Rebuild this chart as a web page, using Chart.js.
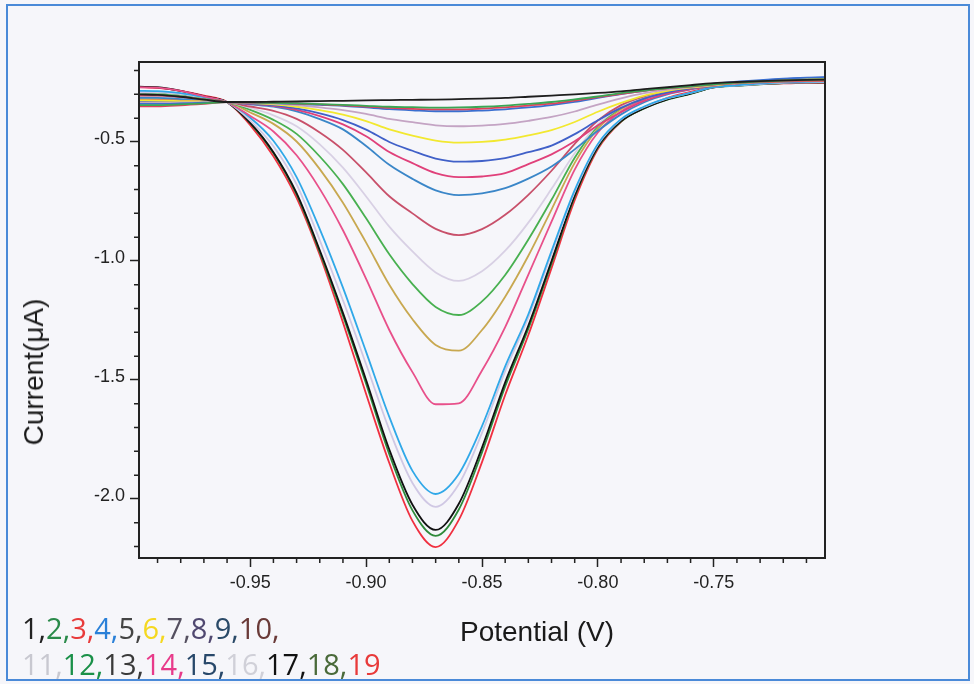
<!DOCTYPE html>
<html>
<head>
<meta charset="utf-8">
<script src="https://cdn.jsdelivr.net/npm/chart.js@4.4.1/dist/chart.umd.min.js"></script>
<style>
  html, body { margin: 0; padding: 0; background: #f6f6fa; }
  #wrap { position: relative; width: 974px; height: 684px; overflow: hidden; }
  #frame { position: absolute; left: 6px; top: 4px; width: 964px; height: 677px; border: 2px solid #4a8ad8; box-sizing: border-box; }
  canvas { position: absolute; left: 0; top: 0; }
  .title { position: absolute; font-family: "Liberation Sans", Arial, sans-serif; font-size: 28px; color: #1a1a1a; white-space: nowrap; }
  #ytitle { left: 34px; top: 372px; transform: translate(-50%, -50%) rotate(-90deg); }
  #xtitle { left: 537px; top: 632px; transform: translate(-50%, -50%); }
  #legend { position: absolute; left: 22px; top: 610px; font-family: "Open Sans", sans-serif; font-size: 29px; line-height: 36px; white-space: nowrap; }
</style>
</head>
<body>
<div id="wrap">
  <div id="frame"></div>
  <canvas id="chart" width="974" height="684"></canvas>
  <div class="title" id="ytitle">Current(μA)</div>
  <div class="title" id="xtitle">Potential (V)</div>
  <div id="legend"></div>
</div>
<script>
// potential (V)
const potential = [-0.998, -0.99, -0.98, -0.97, -0.96, -0.95, -0.94, -0.93, -0.92, -0.91, -0.90,
  -0.89, -0.88, -0.87, -0.86, -0.85, -0.84, -0.83, -0.82, -0.81, -0.80,
  -0.79, -0.78, -0.77, -0.76, -0.75, -0.74, -0.73, -0.72, -0.71, -0.702];

// current (uA), one array per curve
const c1 = [-0.300,-0.302,-0.310,-0.322,-0.332,-0.332,-0.331,-0.330,-0.328,-0.327,-0.325,-0.324,-0.323,-0.322,-0.320,-0.318,-0.315,-0.310,-0.305,-0.300,-0.294,-0.287,-0.278,-0.270,-0.261,-0.253,-0.248,-0.244,-0.241,-0.239,-0.238];
const c2 = [-0.345,-0.345,-0.342,-0.338,-0.333,-0.334,-0.336,-0.338,-0.341,-0.344,-0.348,-0.352,-0.354,-0.356,-0.355,-0.352,-0.347,-0.340,-0.332,-0.321,-0.309,-0.295,-0.284,-0.274,-0.266,-0.258,-0.251,-0.246,-0.242,-0.239,-0.238];
const c3 = [-0.350,-0.350,-0.346,-0.340,-0.333,-0.335,-0.336,-0.339,-0.342,-0.346,-0.351,-0.357,-0.361,-0.363,-0.363,-0.360,-0.355,-0.347,-0.339,-0.326,-0.312,-0.298,-0.285,-0.275,-0.267,-0.259,-0.252,-0.247,-0.244,-0.242,-0.242];
const c4 = [-0.340,-0.340,-0.338,-0.335,-0.333,-0.335,-0.337,-0.340,-0.344,-0.348,-0.355,-0.362,-0.367,-0.371,-0.371,-0.368,-0.363,-0.355,-0.345,-0.332,-0.315,-0.299,-0.285,-0.273,-0.264,-0.255,-0.247,-0.240,-0.234,-0.230,-0.228];
const c5 = [-0.335,-0.335,-0.334,-0.333,-0.332,-0.336,-0.339,-0.345,-0.355,-0.366,-0.382,-0.403,-0.417,-0.430,-0.434,-0.431,-0.424,-0.411,-0.395,-0.372,-0.343,-0.317,-0.295,-0.280,-0.269,-0.260,-0.251,-0.246,-0.242,-0.239,-0.238];
const c6 = [-0.325,-0.326,-0.328,-0.330,-0.333,-0.337,-0.342,-0.352,-0.366,-0.385,-0.412,-0.447,-0.473,-0.494,-0.503,-0.500,-0.490,-0.472,-0.450,-0.416,-0.373,-0.336,-0.305,-0.285,-0.272,-0.262,-0.252,-0.245,-0.240,-0.236,-0.235];
const c7 = [-0.330,-0.330,-0.331,-0.332,-0.333,-0.339,-0.345,-0.359,-0.380,-0.408,-0.448,-0.500,-0.537,-0.570,-0.583,-0.580,-0.568,-0.543,-0.515,-0.467,-0.409,-0.357,-0.318,-0.292,-0.275,-0.263,-0.251,-0.243,-0.236,-0.231,-0.229];
const c8 = [-0.325,-0.325,-0.327,-0.330,-0.333,-0.340,-0.348,-0.365,-0.391,-0.426,-0.476,-0.542,-0.589,-0.631,-0.648,-0.645,-0.631,-0.593,-0.552,-0.497,-0.430,-0.375,-0.328,-0.297,-0.278,-0.264,-0.252,-0.246,-0.242,-0.239,-0.238];
const c9 = [-0.315,-0.315,-0.320,-0.326,-0.333,-0.342,-0.351,-0.371,-0.404,-0.447,-0.517,-0.596,-0.655,-0.703,-0.723,-0.716,-0.694,-0.654,-0.603,-0.531,-0.453,-0.384,-0.333,-0.300,-0.279,-0.264,-0.252,-0.246,-0.242,-0.239,-0.238];
const c10 = [-0.305,-0.305,-0.312,-0.322,-0.333,-0.351,-0.369,-0.403,-0.460,-0.533,-0.628,-0.728,-0.800,-0.865,-0.891,-0.866,-0.806,-0.722,-0.621,-0.508,-0.410,-0.345,-0.308,-0.286,-0.271,-0.261,-0.251,-0.246,-0.243,-0.241,-0.240];
const c11 = [-0.310,-0.310,-0.315,-0.323,-0.333,-0.357,-0.388,-0.434,-0.510,-0.608,-0.729,-0.856,-0.960,-1.048,-1.084,-1.043,-0.957,-0.839,-0.697,-0.547,-0.426,-0.353,-0.310,-0.287,-0.273,-0.260,-0.252,-0.246,-0.242,-0.240,-0.239];
const c12 = [-0.300,-0.300,-0.308,-0.320,-0.333,-0.365,-0.407,-0.466,-0.561,-0.677,-0.821,-0.972,-1.097,-1.193,-1.227,-1.170,-1.059,-0.910,-0.743,-0.566,-0.432,-0.356,-0.311,-0.288,-0.272,-0.260,-0.252,-0.246,-0.241,-0.238,-0.237];
const c13 = [-0.320,-0.320,-0.323,-0.328,-0.333,-0.376,-0.424,-0.498,-0.614,-0.755,-0.923,-1.100,-1.245,-1.353,-1.377,-1.290,-1.150,-0.978,-0.784,-0.588,-0.444,-0.362,-0.317,-0.290,-0.273,-0.260,-0.253,-0.248,-0.245,-0.243,-0.242];
const c14 = [-0.270,-0.272,-0.285,-0.308,-0.333,-0.391,-0.456,-0.556,-0.697,-0.871,-1.075,-1.290,-1.467,-1.602,-1.598,-1.460,-1.278,-1.057,-0.835,-0.616,-0.460,-0.372,-0.322,-0.292,-0.275,-0.261,-0.254,-0.249,-0.246,-0.244,-0.243];
const c15 = [-0.285,-0.286,-0.295,-0.312,-0.333,-0.398,-0.495,-0.648,-0.866,-1.112,-1.382,-1.655,-1.882,-1.979,-1.895,-1.694,-1.443,-1.224,-0.958,-0.702,-0.508,-0.404,-0.351,-0.316,-0.294,-0.270,-0.262,-0.255,-0.250,-0.247,-0.246];
const c16 = [-0.290,-0.291,-0.299,-0.314,-0.333,-0.410,-0.518,-0.678,-0.913,-1.165,-1.434,-1.709,-1.933,-2.033,-1.938,-1.722,-1.463,-1.237,-0.970,-0.710,-0.512,-0.406,-0.353,-0.317,-0.294,-0.270,-0.263,-0.257,-0.252,-0.249,-0.248];
const c17 = [-0.268,-0.270,-0.285,-0.308,-0.333,-0.420,-0.543,-0.715,-0.955,-1.218,-1.500,-1.792,-2.024,-2.130,-2.020,-1.784,-1.510,-1.271,-1.000,-0.725,-0.520,-0.412,-0.358,-0.321,-0.297,-0.271,-0.263,-0.257,-0.253,-0.250,-0.249];
const c18 = [-0.290,-0.291,-0.300,-0.315,-0.333,-0.421,-0.546,-0.720,-0.963,-1.230,-1.516,-1.812,-2.048,-2.155,-2.044,-1.804,-1.527,-1.285,-1.010,-0.730,-0.523,-0.414,-0.359,-0.322,-0.298,-0.271,-0.264,-0.258,-0.253,-0.250,-0.249];
const c19 = [-0.269,-0.273,-0.285,-0.305,-0.332,-0.429,-0.560,-0.735,-0.975,-1.258,-1.559,-1.849,-2.092,-2.202,-2.088,-1.845,-1.563,-1.311,-1.030,-0.745,-0.530,-0.415,-0.356,-0.315,-0.290,-0.269,-0.261,-0.256,-0.254,-0.252,-0.252];

const curves = [c1, c2, c3, c4, c5, c6, c7, c8, c9, c10, c11, c12, c13, c14, c15, c16, c17, c18, c19];
const lineColors = ['#1e1e1e', '#3aa655', '#e0405a', '#3a6fd0', '#c4a4c4', '#f2e830', '#4060c8', '#e0407a', '#3a86c8', '#c8506a',
  '#d8d0e4', '#48b050', '#c8a850', '#e8508a', '#30a8e8', '#d0c8e4', '#111111', '#2e8a3a', '#f03040'];

// legend numbers and their colours
const legendLine1 = ['1', '2', '3', '4', '5', '6', '7', '8', '9', '10'];
const legendLine2 = ['11', '12', '13', '14', '15', '16', '17', '18', '19'];
const legendColors = ['#222222', '#2a8a4a', '#e83a3a', '#2a80d8', '#444444', '#f5d820', '#555060', '#504870', '#2a4a68', '#6a3a38',
  '#c8c8d0', '#1a9048', '#3a3a3a', '#e83a8a', '#28486a', '#d0d0d8', '#111111', '#4a6a3a', '#e83a3a'];

const xTicks = [-0.95, -0.90, -0.85, -0.80, -0.75];
const yTicks = [-2.0, -1.5, -1.0, -0.5];
const xMinor = [-0.99, -0.98, -0.97, -0.96, -0.94, -0.93, -0.92, -0.91, -0.89, -0.88, -0.87, -0.86, -0.84, -0.83, -0.82, -0.81,
  -0.79, -0.78, -0.77, -0.76, -0.74, -0.73, -0.72, -0.71];
const yMinor = [-2.2, -2.1, -1.9, -1.8, -1.7, -1.6, -1.4, -1.3, -1.2, -1.1, -0.9, -0.8, -0.7, -0.6, -0.4, -0.3, -0.2];

const legend = document.getElementById('legend');
[legendLine1, legendLine2].forEach((line, li) => {
  const row = document.createElement('div');
  line.forEach((n, i) => {
    const span = document.createElement('span');
    const idx = li * 10 + i;
    span.style.color = legendColors[idx];
    span.textContent = n + (idx < 18 ? ',' : '');
    row.appendChild(span);
  });
  legend.appendChild(row);
});

const datasets = curves.map((c, i) => ({
  label: String(i + 1),
  data: c.map((v, j) => ({ x: potential[j], y: v })),
  borderColor: lineColors[i],
  borderWidth: 1.8,
  pointRadius: 0,
  cubicInterpolationMode: 'monotone',
  fill: false
}));

const axisFont = { family: '"Liberation Sans", Arial, sans-serif', size: 18 };

const frameAndMinor = {
  id: 'frameAndMinor',
  afterDraw(chart) {
    const { ctx, chartArea: a, scales: { x, y } } = chart;
    ctx.save();
    ctx.strokeStyle = '#222';
    ctx.lineWidth = 1.5;
    ctx.beginPath();
    xMinor.forEach(v => {
      const px = x.getPixelForValue(v);
      ctx.moveTo(px, a.bottom);
      ctx.lineTo(px, a.bottom + 5);
    });
    yMinor.forEach(v => {
      const py = y.getPixelForValue(v);
      ctx.moveTo(a.left, py);
      ctx.lineTo(a.left - 5, py);
    });
    ctx.stroke();
    ctx.lineWidth = 2;
    ctx.strokeRect(a.left, a.top, a.right - a.left, a.bottom - a.top);
    ctx.restore();
  }
};

new Chart(document.getElementById('chart'), {
  type: 'line',
  data: { datasets },
  options: {
    responsive: false,
    animation: false,
    devicePixelRatio: 1,
    layout: { padding: { left: 0, top: 62, right: 149, bottom: 0 } },
    plugins: { legend: { display: false }, tooltip: { enabled: false } },
    scales: {
      x: {
        type: 'linear',
        min: -0.998,
        max: -0.702,
        afterFit: s => { s.height = 126; },
        afterBuildTicks: s => { s.ticks = xTicks.map(v => ({ value: v })); },
        grid: { drawOnChartArea: false, drawTicks: true, tickLength: 9, color: '#222', tickWidth: 1.5 },
        border: { display: true, color: '#222', width: 2 },
        ticks: { font: axisFont, color: '#222', padding: 5, maxRotation: 0, callback: v => v.toFixed(2) }
      },
      y: {
        type: 'linear',
        min: -2.248,
        max: -0.164,
        afterFit: s => { s.width = 139; },
        afterBuildTicks: s => { s.ticks = yTicks.map(v => ({ value: v })); },
        grid: { drawOnChartArea: false, drawTicks: true, tickLength: 9, color: '#222', tickWidth: 1.5 },
        border: { display: true, color: '#222', width: 2 },
        ticks: { font: axisFont, color: '#222', padding: 5, labelOffset: -3, callback: v => v.toFixed(1) }
      }
    }
  },
  plugins: [frameAndMinor]
});
</script>
</body>
</html>
